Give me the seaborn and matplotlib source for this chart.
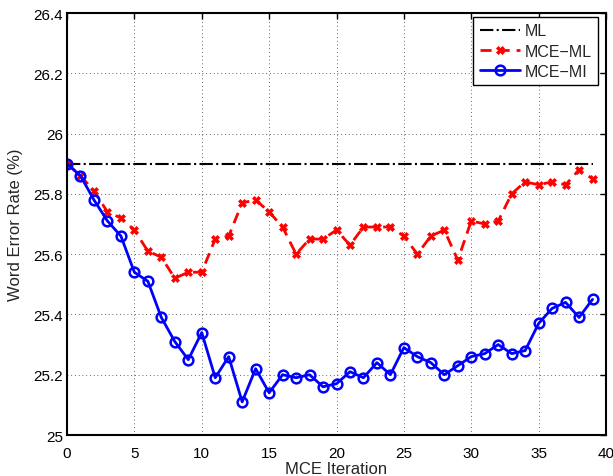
"""Word error rate vs MCE iteration (ML / MCE-ML / MCE-MI)."""

import numpy as np
import pandas as pd
import matplotlib
matplotlib.use("Agg")
import matplotlib.pyplot as plt
import seaborn as sns

ITER = list(range(40))

WER_ML = [25.90] * 40

WER_MCE_ML = [25.90, 25.86, 25.81, 25.74, 25.72, 25.68, 25.61, 25.59, 25.52, 25.54,
              25.54, 25.65, 25.66, 25.77, 25.78, 25.74, 25.69, 25.60, 25.65, 25.65,
              25.68, 25.63, 25.69, 25.69, 25.69, 25.66, 25.60, 25.66, 25.68, 25.58,
              25.71, 25.70, 25.71, 25.80, 25.84, 25.83, 25.84, 25.83, 25.88, 25.85]

WER_MCE_MI = [25.90, 25.86, 25.78, 25.71, 25.66, 25.54, 25.51, 25.39, 25.31, 25.25,
              25.34, 25.19, 25.26, 25.11, 25.22, 25.14, 25.20, 25.19, 25.20, 25.16,
              25.17, 25.21, 25.19, 25.24, 25.20, 25.29, 25.26, 25.24, 25.20, 25.23,
              25.26, 25.27, 25.30, 25.27, 25.28, 25.37, 25.42, 25.44, 25.39, 25.45]

XTICKS = [0, 5, 10, 15, 20, 25, 30, 35, 40]
YTICKS = [25.0, 25.2, 25.4, 25.6, 25.8, 26.0, 26.2, 26.4]
YTICK_LABELS = ["25", "25.2", "25.4", "25.6", "25.8", "26", "26.2", "26.4"]

sns.set_style("white")
plt.rcParams["font.family"] = ["Liberation Sans", "DejaVu Sans"]

df = pd.DataFrame({"iter": ITER, "ML": WER_ML,
                   "MCE-ML": WER_MCE_ML, "MCE-MI": WER_MCE_MI})

fig = plt.figure(figsize=(6.13, 4.77), dpi=100)
ax = fig.add_axes([67 / 613, 1 - 436 / 477, 539 / 613, 422 / 477])

sns.lineplot(data=df, x="iter", y="ML", ax=ax, color="black", lw=1.5,
             linestyle="-.", label="ML")
sns.lineplot(data=df, x="iter", y="MCE-ML", ax=ax, color="red", lw=2,
             linestyle=(0, (4, 2.5)), marker="X", markersize=6,
             markeredgewidth=0.5, markeredgecolor="red", label="MCE\u2212ML")
sns.lineplot(data=df, x="iter", y="MCE-MI", ax=ax, color="blue", lw=2,
             marker="o", markersize=7, markerfacecolor="none",
             markeredgewidth=1.8, markeredgecolor="blue", label="MCE\u2212MI")

ax.set_xlim(0, 40)
ax.set_ylim(25, 26.4)
ax.set_xticks(XTICKS)
ax.set_yticks(YTICKS)
ax.set_yticklabels(YTICK_LABELS)
ax.set_xlabel("MCE Iteration", fontsize=12, labelpad=1)
ax.set_ylabel("Word Error Rate (%)", fontsize=12, labelpad=7)
ax.tick_params(direction="in", length=4, width=1, labelsize=11,
               top=True, right=True, colors="black")
ax.tick_params(axis="x", pad=8)
ax.tick_params(axis="y", pad=3)
ax.grid(True, linestyle=(0, (1, 3.5)), color="#333333", lw=0.6)
for s in ax.spines.values():
    s.set_visible(True)
    s.set_color("black")
    s.set_linewidth(1.5)

leg = ax.legend(loc="upper right", fontsize=11.5, frameon=True, fancybox=False,
                edgecolor="black", framealpha=1,
                bbox_to_anchor=(598 / 613, 1 - 18 / 477),
                bbox_transform=fig.transFigure, borderaxespad=0,
                handlelength=2.5, handletextpad=0.3, borderpad=0.4,
                labelspacing=0.32)
leg.get_frame().set_linewidth(1)

fig.savefig("out.png", dpi=100)
